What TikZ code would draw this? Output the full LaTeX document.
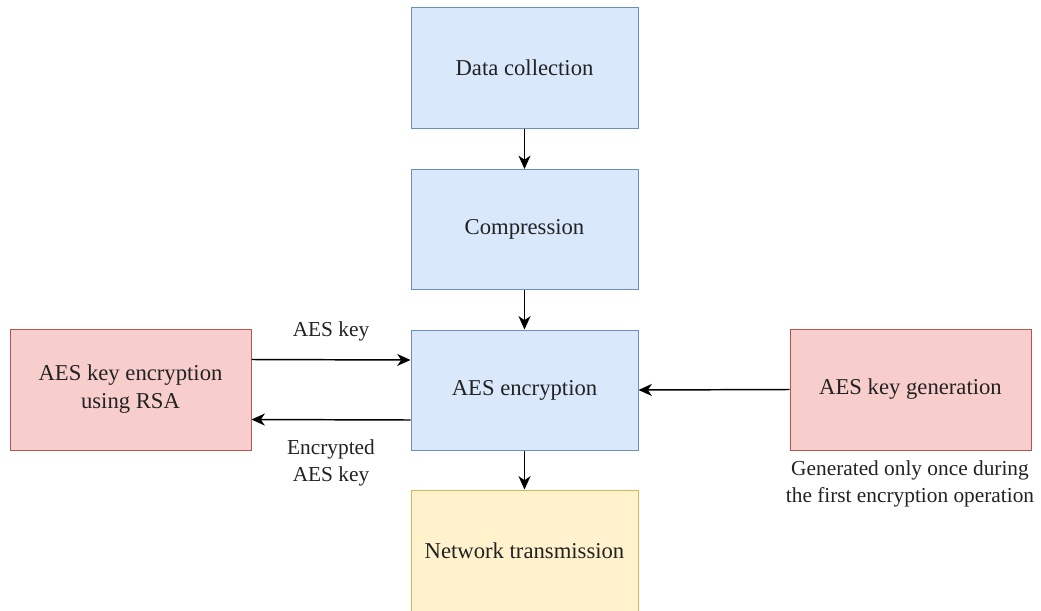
\documentclass[tikz,border=0pt]{standalone}
\usepackage{fontspec}
\setmainfont{Liberation Serif}
\usetikzlibrary{arrows.meta}
\definecolor{bluefill}{HTML}{DAE8FC}
\definecolor{bluedraw}{HTML}{6C8EBF}
\definecolor{redfill}{HTML}{F8CECC}
\definecolor{reddraw}{HTML}{B85450}
\definecolor{yelfill}{HTML}{FFF2CC}
\definecolor{yeldraw}{HTML}{D6B656}
\definecolor{txt}{HTML}{222222}
\tikzset{
  box/.style={rectangle, draw, line width=0.75pt, font=\fontsize{17}{21}\selectfont, text=txt, align=center, inner sep=0pt},
  bluebox/.style={box, fill=bluefill, draw=bluedraw, minimum width=170.25pt, minimum height=90pt},
  redbox/.style={box, fill=redfill, draw=reddraw, minimum width=180.75pt, minimum height=90.75pt},
  yelbox/.style={box, fill=yelfill, draw=yeldraw, minimum width=170.25pt, minimum height=91.5pt},
  lbl/.style={font=\fontsize{16}{20.5}\selectfont, text=txt, align=center, inner sep=0pt},
  arr/.style={-{Stealth[length=10pt,width=9pt,inset=3pt]}, line width=1.1pt, black}
}
\begin{document}
\begin{tikzpicture}[x=0.75pt,y=-0.75pt]
\useasboundingbox (0,0) rectangle (1041,610);
\node[bluebox] (dc) at (524.5,68) {Data collection};
\node[bluebox] (cp) at (524.5,229.5) {Compression};
\node[bluebox] (aes) at (524.5,390) {AES encryption};
\node[yelbox] (nt) at (524.5,551) {Network transmission};
\node[redbox] (rsa) at (130.5,389.5) {AES key encryption\\using RSA};
\node[redbox] (gen) at (910.5,389.5) {AES key generation};
\draw[arr] (dc) -- (cp);
\draw[arr] (cp) -- (aes);
\draw[arr] (aes) -- (nt);
\draw[arr] ([yshift=22.5pt]rsa.east) -- ([yshift=22.5pt]aes.west);
\draw[arr] ([yshift=-22.5pt]aes.west) -- ([yshift=-22.5pt]rsa.east);
\draw[arr] (gen.west) -- (aes.east);
\node[lbl] (l1) at (331,331) {AES key};
\node[lbl] (l2) at (331,463) {Encrypted\\AES key};
\node[lbl] (l3) at (910,484) {Generated only once during\\the first encryption operation};
\end{tikzpicture}
\end{document}
